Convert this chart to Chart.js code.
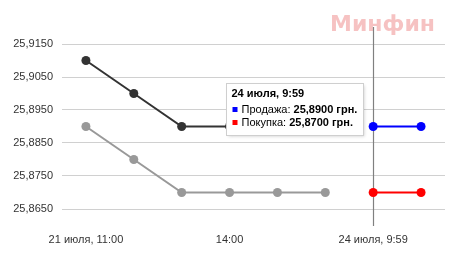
<!DOCTYPE html>
<html>
<head>
<meta charset="utf-8">
<script src="https://cdn.jsdelivr.net/npm/chart.js@4"></script>
<style>
  html, body { margin: 0; padding: 0; background: #fff; }
  canvas { display: block; }
</style>
</head>
<body>
<canvas id="chart" width="454" height="254"></canvas>
<script>
const categories = ['21 июля, 11:00', '12:00', '13:00', '14:00', '15:00', '16:00', '24 июля, 9:59', '24 июля, 10:30'];
const shownTicks = ['21 июля, 11:00', '14:00', '24 июля, 9:59'];

const sellHistory = [25.91, 25.90, 25.89, 25.89, 25.89, 25.89, null, null];
const buyHistory = [25.89, 25.88, 25.87, 25.87, 25.87, 25.87, null, null];
const sellToday = [null, null, null, null, null, null, 25.89, 25.89];
const buyToday = [null, null, null, null, null, null, 25.87, 25.87];

const hoverIndex = 6;
const FONT = '"Liberation Sans", Arial, sans-serif';

const fmt = v => v.toFixed(4).replace('.', ',');

function line(label, data, color) {
  return {
    label,
    data,
    borderColor: color,
    backgroundColor: color,
    borderWidth: 2,
    pointRadius: 4.5,
    pointHoverRadius: 4.5,
    pointBorderWidth: 0,
    tension: 0,
    spanGaps: false
  };
}

// watermark + crosshair + tooltip box
const decorations = {
  id: 'decorations',
  beforeDatasetsDraw(chart) {
    const { ctx, chartArea } = chart;
    ctx.save();
    ctx.font = 'bold 22px "DejaVu Sans", sans-serif';
    ctx.fillStyle = 'rgba(230, 80, 80, 0.35)';
    ctx.textBaseline = 'alphabetic';
    ctx.textAlign = 'right';
    ctx.fillText('Минфин', 435, 31);

    const x = Math.round(chart.scales.x.getPixelForValue(hoverIndex)) + 0.5;
    ctx.strokeStyle = '#808080';
    ctx.lineWidth = 1.2;
    ctx.beginPath();
    ctx.moveTo(x, chartArea.top - 17);
    ctx.lineTo(x, chartArea.bottom + 17);
    ctx.stroke();
    ctx.restore();
  },
  afterDraw(chart) {
    const { ctx, chartArea } = chart;
    const x = chart.scales.x.getPixelForValue(hoverIndex);
    const w = 137, h = 52;
    const left = Math.round(x - 10 - w) + 0.5;
    const top = Math.round(chartArea.top + 39) + 0.5;

    ctx.save();
    ctx.shadowColor = 'rgba(0,0,0,0.18)';
    ctx.shadowBlur = 3;
    ctx.shadowOffsetX = 1;
    ctx.shadowOffsetY = 1;
    ctx.fillStyle = '#fff';
    ctx.fillRect(left, top, w, h);
    ctx.shadowColor = 'transparent';
    ctx.strokeStyle = '#cfcfcf';
    ctx.lineWidth = 1;
    ctx.strokeRect(left, top, w, h);

    ctx.textBaseline = 'middle';
    ctx.textAlign = 'left';
    ctx.fillStyle = '#000';
    ctx.font = 'bold 11px ' + FONT;
    ctx.fillText(categories[hoverIndex], left + 5, top + 10);

    const rows = [
      ['Продажа: ', sellToday[hoverIndex], '#0000ff'],
      ['Покупка: ', buyToday[hoverIndex], '#ff0000']
    ];
    rows.forEach(([name, val, color], i) => {
      const cy = top + 26 + i * 13;
      ctx.fillStyle = color;
      ctx.fillRect(left + 6, cy - 2.5, 5, 5);
      ctx.fillStyle = '#000';
      ctx.font = '11px ' + FONT;
      ctx.fillText(name, left + 15, cy);
      const nw = ctx.measureText(name).width;
      ctx.font = 'bold 11px ' + FONT;
      ctx.fillText(fmt(val) + ' грн.', left + 15 + nw, cy);
    });
    ctx.restore();
  }
};

new Chart(document.getElementById('chart'), {
  type: 'line',
  data: {
    labels: categories,
    datasets: [
      line('Продажа', sellHistory, '#333333'),
      line('Покупка', buyHistory, '#999999'),
      line('Продажа', sellToday, '#0000ff'),
      line('Покупка', buyToday, '#ff0000')
    ]
  },
  options: {
    responsive: false,
    animation: false,
    events: [],
    layout: { padding: { left: 0, right: 9, top: 44, bottom: 0 } },
    plugins: {
      legend: { display: false },
      tooltip: { enabled: false }
    },
    scales: {
      x: {
        offset: true,
        grid: { display: false },
        border: { display: false },
        afterFit: s => { s.height = 45; },
        ticks: {
          autoSkip: false,
          maxRotation: 0,
          padding: 16,
          color: '#333',
          font: { family: FONT, size: 11 },
          callback: function (v, i) {
            const lbl = this.getLabelForValue(v);
            return shownTicks.includes(lbl) ? lbl : '';
          }
        }
      },
      y: {
        min: 25.865,
        max: 25.915,
        border: { display: false },
        grid: { color: '#d0d0d0', drawTicks: false },
        afterFit: s => { s.width = 62; },
        ticks: {
          stepSize: 0.01,
          padding: 9,
          color: '#333',
          font: { family: FONT, size: 11 },
          callback: v => fmt(v)
        }
      }
    }
  },
  plugins: [decorations]
});
</script>
</body>
</html>
